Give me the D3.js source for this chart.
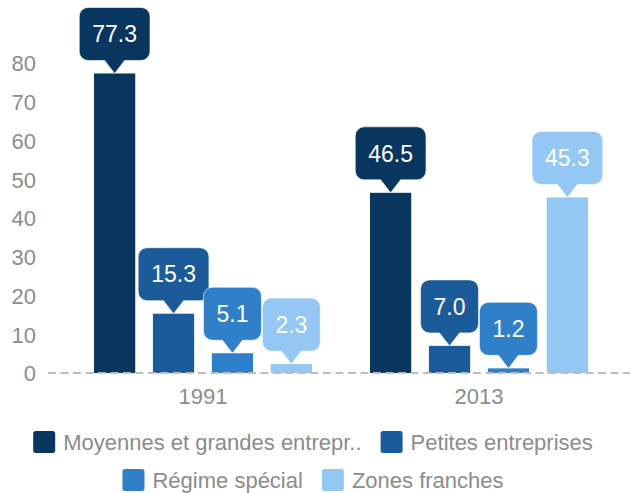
<!DOCTYPE html>
<html>
<head>
<meta charset="utf-8">
<script src="https://cdn.jsdelivr.net/npm/d3@7"></script>
<style>
  body { margin: 0; background: #fff; }
  svg text { font-family: "Liberation Sans", Arial, sans-serif; }
  .tick text { fill: #8c8c8c; font-size: 22px; }
  .legend text { fill: #8c8c8c; font-size: 22px; }
  .callout text { fill: #fff; font-size: 23px; }
</style>
</head>
<body>
<svg id="chart" width="630" height="493"></svg>
<script>
  // data
  var years = [ "1991", "2013" ];
  var series = [ "Moyennes et grandes entrepr..", "Petites entreprises", "Régime spécial", "Zones franches" ];
  var values1991 = [ 77.3, 15.3, 5.1, 2.3 ];
  var values2013 = [ 46.5, 7.0, 1.2, 45.3 ];
  var yTicks = [ 0, 10, 20, 30, 40, 50, 60, 70, 80 ];

  var colors = [ "#08365f", "#1c5b99", "#2f80c9", "#94c7f4" ];
  var valuesByYear = { "1991" : values1991, "2013" : values2013 };

  var svg = d3.select( "#chart" );

  var x0 = d3.scaleBand().domain( years ).range( [ 65, 617 ] ).padding( 0 );
  var x1 = d3.scaleBand().domain( series ).range( [ 29, 247 ] ).paddingInner( 0.3 ).paddingOuter( 0 );
  var y = d3.scaleLinear().domain( [ 0, 80 ] ).range( [ 373, 63 ] );
  var color = d3.scaleOrdinal().domain( series ).range( colors );

  // y axis labels only
  var yAxis = svg.append( "g" ).attr( "transform", "translate(36,0)" )
    .call( d3.axisLeft( y ).tickValues( yTicks ).tickSize( 0 ).tickPadding( 0 ) );
  yAxis.select( ".domain" ).remove();
  yAxis.selectAll( "text" ).attr( "dy", "0.36em" );

  // x axis labels
  var xAxis = svg.append( "g" ).attr( "transform", "translate(0,383)" )
    .call( d3.axisBottom( x0 ).tickSize( 0 ).tickPadding( 0 ) );
  xAxis.select( ".domain" ).remove();
  xAxis.selectAll( "text" ).attr( "dy", "0.95em" );

  var rows = [];
  years.forEach( function( yr ) {
    valuesByYear[ yr ].forEach( function( v, i ) {
      rows.push( { year : yr, name : series[ i ], value : v } );
    } );
  } );

  svg.append( "g" ).selectAll( "rect" ).data( rows ).join( "rect" )
    .attr( "x", function( d ) { return x0( d.year ) + x1( d.name ); } )
    .attr( "y", function( d ) { return y( d.value ); } )
    .attr( "width", x1.bandwidth() )
    .attr( "height", function( d ) { return y( 0 ) - y( d.value ); } )
    .attr( "fill", function( d ) { return color( d.name ); } );

  // dashed baseline
  svg.append( "line" )
    .attr( "x1", 48 ).attr( "x2", 630 )
    .attr( "y1", y( 0 ) ).attr( "y2", y( 0 ) )
    .attr( "stroke", "#bdbdbd" ).attr( "stroke-width", 2 )
    .attr( "stroke-dasharray", "8,4.5" );

  // value callouts
  var boxH = 53, tip = 13, r = 9, half = 10;
  rows.forEach( function( d ) {
    var cx = x0( d.year ) + x1( d.name ) + x1.bandwidth() / 2;
    var tipY = y( d.value );
    var g = svg.append( "g" ).attr( "class", "callout" );
    var label = g.append( "text" ).text( d.value.toFixed( 1 ) );
    var w = label.node().getComputedTextLength() + 26;
    var bottom = tipY - tip, top = bottom - boxH;
    var l = cx - w / 2, rr = cx + w / 2;
    var p = d3.path();
    p.moveTo( l + r, top );
    p.lineTo( rr - r, top );
    p.arcTo( rr, top, rr, top + r, r );
    p.lineTo( rr, bottom - r );
    p.arcTo( rr, bottom, rr - r, bottom, r );
    p.lineTo( cx + half, bottom );
    p.lineTo( cx, tipY );
    p.lineTo( cx - half, bottom );
    p.lineTo( l + r, bottom );
    p.arcTo( l, bottom, l, bottom - r, r );
    p.lineTo( l, top + r );
    p.arcTo( l, top, l + r, top, r );
    p.closePath();
    g.insert( "path", "text" ).attr( "d", p.toString() )
      .attr( "fill", color( d.name ) )
      .attr( "stroke", "#ffffff" ).attr( "stroke-opacity", 0.6 ).attr( "stroke-width", 1 );
    label.attr( "x", cx ).attr( "y", top + boxH / 2 ).attr( "dy", "0.36em" )
      .attr( "text-anchor", "middle" );
  } );

  // legend, two centred rows
  var legendRows = [ series.slice( 0, 2 ), series.slice( 2, 4 ) ];
  var rowY = [ 442, 480 ];
  var legend = svg.append( "g" ).attr( "class", "legend" );
  legendRows.forEach( function( names, ri ) {
    var row = legend.append( "g" );
    var xpos = 0;
    names.forEach( function( name ) {
      var item = row.append( "g" ).attr( "transform", "translate(" + xpos + ",0)" );
      item.append( "rect" ).attr( "x", 0 ).attr( "y", rowY[ ri ] - 11 )
        .attr( "width", 22 ).attr( "height", 22 ).attr( "rx", 2.5 )
        .attr( "fill", color( name ) );
      var t = item.append( "text" ).attr( "x", 30 ).attr( "y", rowY[ ri ] ).attr( "dy", "0.35em" ).text( name );
      xpos += 30 + t.node().getComputedTextLength() + 19;
    } );
    var total = xpos - 19;
    row.attr( "transform", "translate(" + ( 313 - total / 2 ) + ",0)" );
  } );
</script>
</body>
</html>
